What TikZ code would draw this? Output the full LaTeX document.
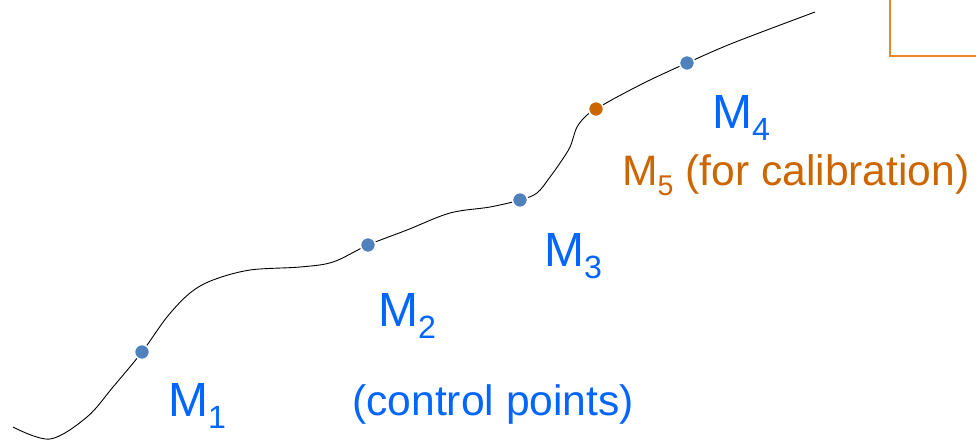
\documentclass[tikz,border=0pt]{standalone}
\usepackage{fontspec}
\setmainfont{Liberation Sans}
\usetikzlibrary{positioning}
\definecolor{ptblue}{RGB}{0,102,255}
\definecolor{ptdot}{RGB}{79,129,189}
\definecolor{calorange}{RGB}{204,102,0}
\definecolor{frameorange}{RGB}{232,136,40}
\newcommand{\idx}[1]{\raisebox{-0.25em}{\scalebox{0.67}{#1}}}
\tikzset{
  ctrl/.style={circle, fill=ptdot, draw=white, line width=1.5pt, minimum size=15pt, inner sep=0pt},
  calib/.style={ctrl, fill=calorange},
  lbl/.style={anchor=base west, inner sep=0pt, text=ptblue, font=\fontsize{48}{48}\selectfont},
  note/.style={anchor=base west, inner sep=0pt, font=\fontsize{42.6}{42.6}\selectfont}
}

\begin{document}
\begin{tikzpicture}[x=1pt, y=-1pt]
\useasboundingbox (0,0) rectangle (976,440);

\coordinate (m1) at (142,352);
\coordinate (m2) at (368,245);
\coordinate (m3) at (520,200);
\coordinate (m5) at (596,109);
\coordinate (m4) at (687,63);

\draw[frameorange, line width=1.3pt] (890,0) |- (976,56);

\draw[line width=0.9pt] plot[smooth, tension=0.55] coordinates {
  (13,427) (50,439) (87,417) (113,387) (m1) (167,317) (190,293) (213,280)
  (250,270) (300,267) (333,262) (m2) (407,230) (450,213) (490,207) (m3)
  (537,193) (550,177) (560,163) (570,147) (577,127) (587,115) (m5)
  (617,97) (650,80) (m4) (733,43) (815,12)};

\node[ctrl] (p1) at (m1) {};
\node[ctrl] (p2) at (m2) {};
\node[ctrl] (p3) at (m3) {};
\node[ctrl] (p4) at (m4) {};
\node[calib] (p5) at (m5) {};

\node[lbl] (l1) at (168,416) {M\idx{1}};
\node[lbl] (l2) at (378,326) {M\idx{2}};
\node[lbl] (l3) at (544,266) {M\idx{3}};
\node[lbl] (l4) at (712,128) {M\idx{4}};
\node[note, text=calorange] (l5) at (622,185) {M\idx{5} (for calibration)};
\node[note, text=ptblue] (cp) at (352,415) {(control points)};
\end{tikzpicture}
\end{document}
